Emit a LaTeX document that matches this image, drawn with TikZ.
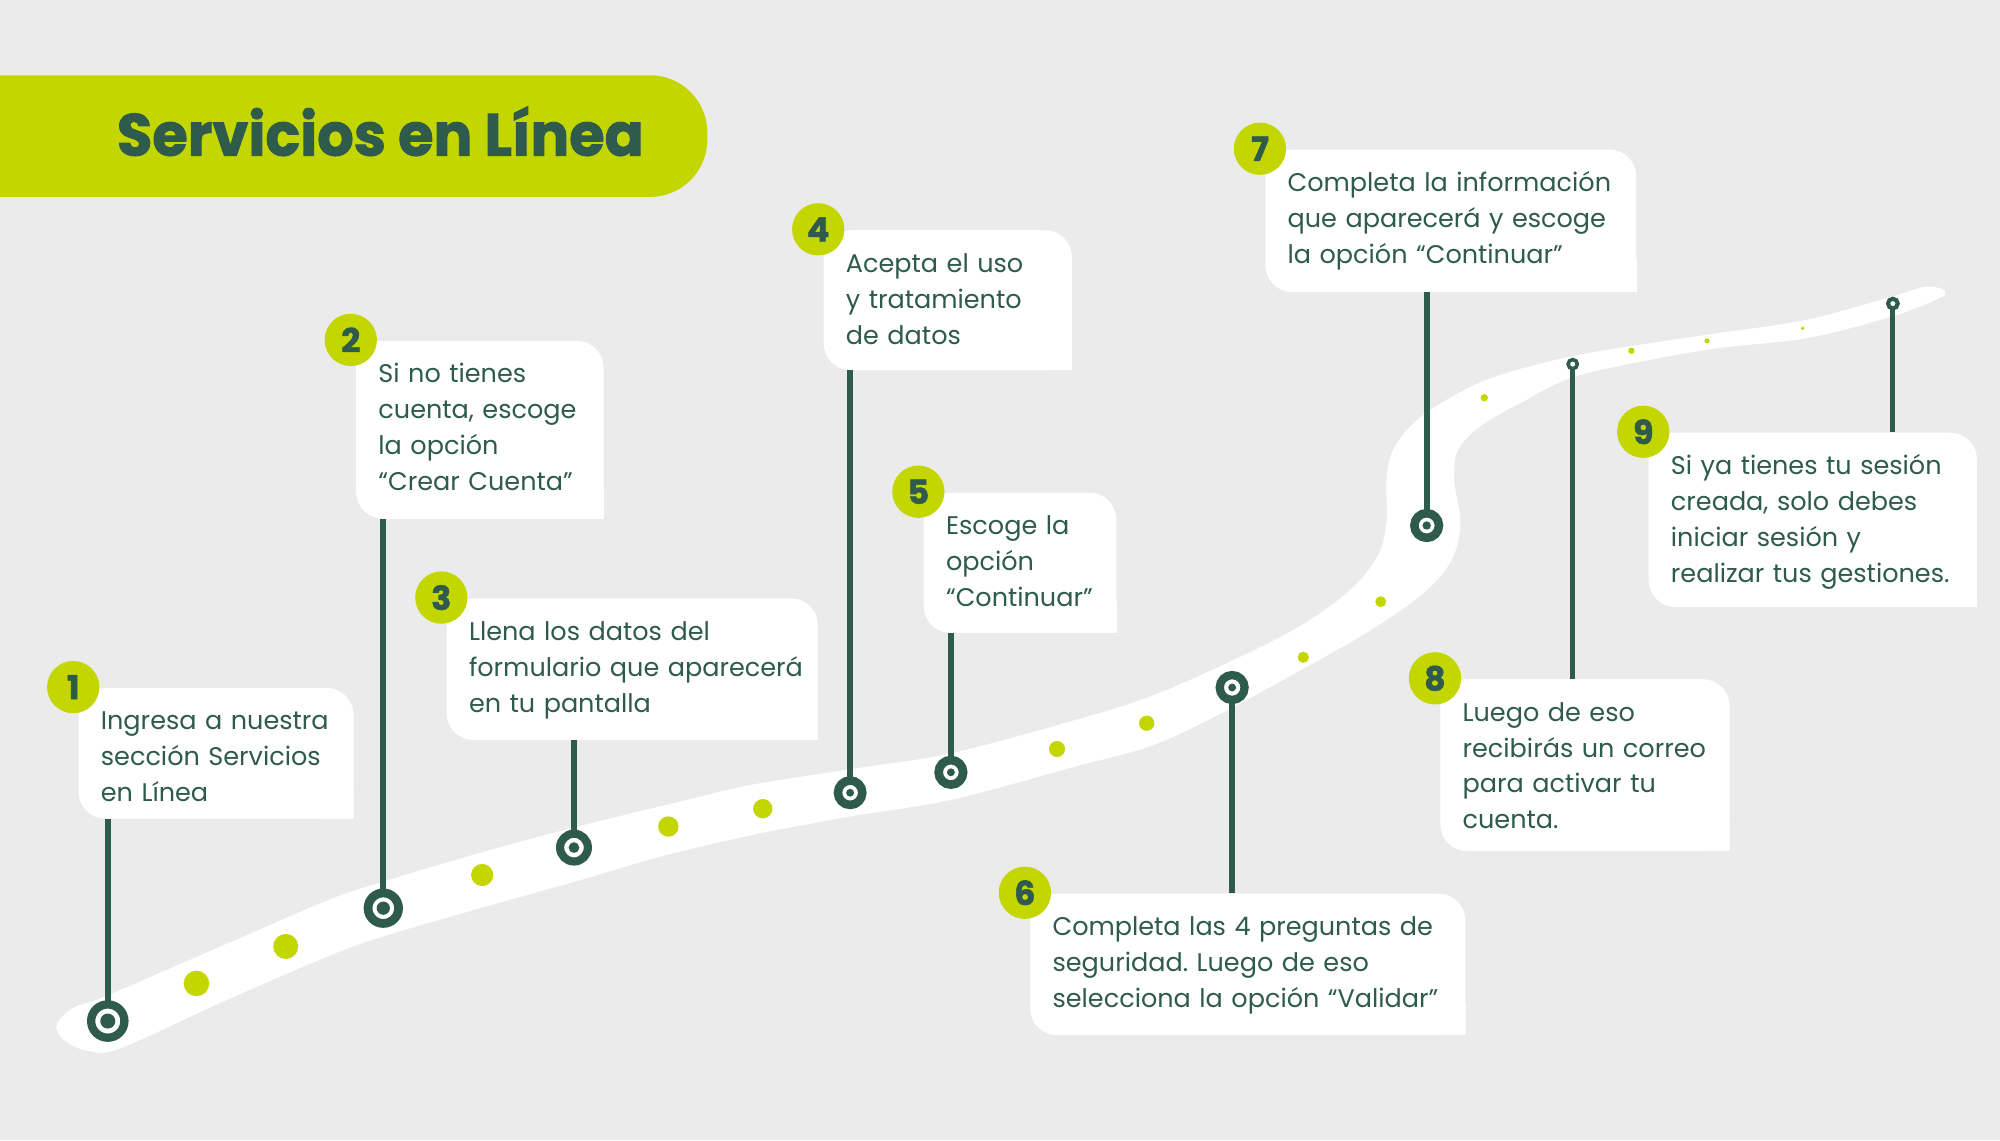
\documentclass[tikz,border=0pt]{standalone}
\usepackage{fontspec}
\setmainfont{Poppins}
\newfontfamily\headfont{Poppins}[BoldFeatures={FakeBold=1.6}]
\frenchspacing
\usetikzlibrary{calc}
\definecolor{bgc}{HTML}{EBEBEB}
\definecolor{lime}{HTML}{C4D600}
\definecolor{dkgreen}{HTML}{2E5B4B}
\tikzset{
  card/.style={fill=white, rounded corners=21pt, inner sep=0pt, anchor=north west},
  cardtext/.style={anchor=base west, inner sep=0pt, text width=#1, align=left, text=dkgreen, font=\fontsize{20}{28.2}\selectfont},
  badge/.style={circle, fill=lime, inner sep=0pt, minimum size=41pt, text=dkgreen, font=\fontsize{26}{26}\selectfont\headfont\bfseries},
  conn/.style={draw=dkgreen, line width=4.5pt},
  thinconn/.style={draw=dkgreen, line width=4pt},
  ring/.style={circle, fill=white, draw=dkgreen, inner sep=0pt},
  dot/.style={fill=lime},
}
\newcommand\mkcard[5]{%
  \node[card, minimum width=#4pt, minimum height=#5pt] (#1) at (#2,#3) {};
  \fill[white] (#1.south east) rectangle ++(-25pt,25pt);
}
\newcommand\roadmark[5]{%
  \pgfmathsetmacro\ringd{#3+#4}%
  \pgfmathsetmacro\ringw{#3-#4}%
  \node[ring, minimum size=\ringd pt, line width=\ringw pt] (#1) at (#2) {};
  \fill[dkgreen] (#1.center) circle[radius=#5pt];
}
\begin{document}
\begin{tikzpicture}[x=1pt,y=-1pt]
\useasboundingbox (0,0) rectangle (1568,894);
\fill[bgc] (0,0) rectangle (1568,894);

% title bar
\node[fill=lime, rounded corners=45pt, minimum width=614.4pt, minimum height=95.4pt, inner sep=0pt, anchor=north west] (bar) at (-60,58.8) {};
\node[anchor=base west, inner sep=0pt, text=dkgreen, font=\fontsize{46.5}{50}\selectfont\headfont\bfseries] (title) at (91.5,122) {\scalebox{0.97}[1]{Servicios en Línea}};

% road
\fill[white] plot[smooth cycle, tension=0.55] coordinates {
 (44,805) (52,794) (62,788) (84,780.5) (180,739) (259,705) (301,691) (375,669)
 (449,649) (539,627) (588,615.5) (667,603) (746,590.5) (843,564.5) (902,546)
 (967,517.5) (1019,491) (1058,463) (1080,436) (1087,410) (1087,376) (1092,353)
 (1108,332) (1134,313.5) (1173,295) (1239,278) (1337,262.6) (1415,251)
 (1483,232.6) (1508,225) (1521,226) (1525,229.5) (1520,234) (1483,248.3)
 (1415,265.3) (1337,274.4) (1239,294) (1192,316) (1160,334.5) (1143,353)
 (1140,376) (1145,410) (1138,439) (1116,465) (1071.5,496) (1006,533) (954,561)
 (902,585) (843,601) (746,627) (667,640) (588,655) (520,671) (455,690)
 (380,711) (301,734) (259,749) (180,783) (94,822) (70,824) (52,817)};

% dots on the road
\foreach \x/\y/\r in {154/771/10, 224/742/9.8, 378/686/8.7, 524/648/8, 598/634/7.6,
  828.7/587.2/6.3, 899/567/6, 1021.8/515.3/4.4, 1082.5/471.7/4.3, 1163.7/311.8/2.9,
  1279/275/2.5, 1338.3/267.3/2, 1413.3/257.4/1.5}
  \fill[dot] (\x,\y) circle[radius=\r pt];

% cards
\mkcard{c1}{61.4}{539.2}{215.6}{102.4}
\mkcard{c2}{279}{267}{194}{139.5}
\mkcard{c3}{350}{469}{291}{111}
\mkcard{c4}{645.5}{180.3}{194.7}{109.7}
\mkcard{c5}{724}{386}{151}{110}
\mkcard{c6}{807.5}{700.4}{341.1}{111}
\mkcard{c7}{991.8}{117.1}{290.8}{111.6}
\mkcard{c8}{1129}{532.3}{226.8}{134.7}
\mkcard{c9}{1292.3}{339}{257.4}{136.6}

% marker positions
\coordinate (p1) at (84.5,800.5);
\coordinate (p2) at (300.5,712);
\coordinate (p3) at (450,664.5);
\coordinate (p4) at (666.5,621.5);
\coordinate (p5) at (745.5,605.5);
\coordinate (p6) at (966,539);
\coordinate (p7) at (1118.5,412);
\coordinate (p8) at (1233,285.5);
\coordinate (p9) at (1484,238);

% connectors
\draw[conn] (p1) -- (p1 |- c1.south);
\draw[conn] (p2) -- (p2 |- c2.south);
\draw[conn] (p3) -- (p3 |- c3.south);
\draw[conn] (p4) -- (p4 |- c4.south);
\draw[conn] (p5) -- (p5 |- c5.south);
\draw[conn] (p6) -- (p6 |- c6.north);
\draw[conn] (p7) -- (p7 |- c7.south);
\draw[thinconn] (p8) -- (p8 |- c8.north);
\draw[thinconn] (p9) -- (p9 |- c9.north);

% ring markers
\roadmark{m1}{p1}{16.3}{9.8}{5.9}
\roadmark{m2}{p2}{15.4}{8.5}{5.2}
\roadmark{m3}{p3}{14.1}{7.7}{4.2}
\roadmark{m4}{p4}{12.9}{6.2}{3.1}
\roadmark{m5}{p5}{13}{6.2}{3.1}
\roadmark{m6}{p6}{13}{6.5}{3.1}
\roadmark{m7}{p7}{13}{6.3}{3.3}
\roadmark{m8}{p8}{5}{2.2}{0}
\roadmark{m9}{p9}{5.4}{2.2}{0}

% texts
\node[cardtext=240pt] (t1) at ($(c1.north west)+(17.5pt,-33pt)$) {Ingresa a nuestra\\sección Servicios\\en Línea};
\node[cardtext=240pt] (t2) at ($(c2.north west)+(17.5pt,-33pt)$) {Si no tienes\\cuenta, escoge\\la opción\\“Crear Cuenta”};
\node[cardtext=300pt] (t3) at ($(c3.north west)+(17.5pt,-33pt)$) {Llena los datos del\\formulario que aparecerá\\en tu pantalla};
\node[cardtext=240pt] (t4) at ($(c4.north west)+(17.5pt,-33pt)$) {Acepta el uso\\y tratamiento\\de datos};
\node[cardtext=200pt] (t5) at ($(c5.north west)+(17.5pt,-33pt)$) {Escoge la\\opción\\“Continuar”};
\node[cardtext=360pt] (t6) at ($(c6.north west)+(17.5pt,-33pt)$) {Completa las 4 preguntas de\\seguridad. Luego de eso\\selecciona la opción “Validar”};
\node[cardtext=300pt] (t7) at ($(c7.north west)+(17.5pt,-33pt)$) {Completa la información\\que aparecerá y escoge\\la opción “Continuar”};
\node[cardtext=260pt] (t8) at ($(c8.north west)+(17.5pt,-33pt)$) {Luego de eso\\recibirás un correo\\para activar tu\\cuenta.};
\node[cardtext=280pt] (t9) at ($(c9.north west)+(17.5pt,-33pt)$) {Si ya tienes tu sesión\\creada, solo debes\\iniciar sesión y\\realizar tus gestiones.};

% badges
\foreach \i in {1,...,9}
  \node[badge] (n\i) at ($(c\i.north west)+(-4pt,0.5pt)$) {\i};
\end{tikzpicture}
\end{document}
